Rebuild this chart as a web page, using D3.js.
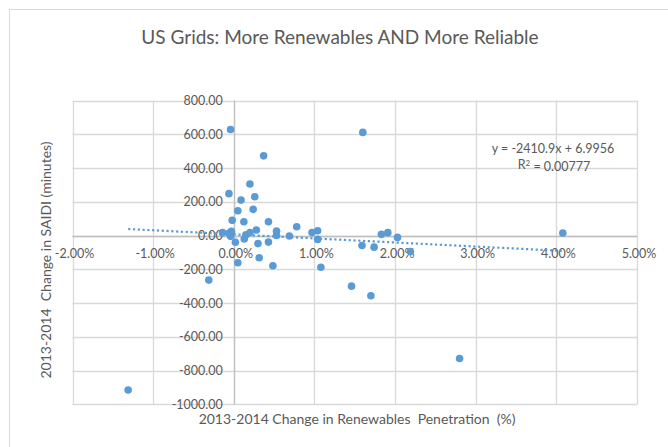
<!DOCTYPE html>
<html><head><meta charset="utf-8">
<script src="https://cdn.jsdelivr.net/npm/d3@7"></script>
<style>
html,body{margin:0;padding:0;background:#fff;}
svg{display:block;}
text{font-family:Lato,"Open Sans",sans-serif;fill:#595959;}
</style></head>
<body>
<svg id="chart" width="668" height="447"></svg>
<script>
// Data: change in renewables penetration (%) vs change in SAIDI (minutes)
const penetration = [-1.31,-0.31,-0.14,-0.06,-0.06,-0.04,-0.03,-0.02,-0.04,0.02,0.05,0.05,0.09,0.125,0.13,0.15,0.20,0.20,0.24,0.26,0.28,0.30,0.315,0.37,0.43,0.43,0.485,0.53,0.53,0.69,0.78,0.97,1.04,1.04,1.08,1.46,1.59,1.60,1.70,1.74,1.83,1.91,2.03,2.19,2.80,4.08];
const saidi = [-915,-264,17,13,248,628,25,90,-5,-40,147,-161,210,82,-21,5,305,18,155,230,33,-48,-132,472,82,-39,-179,26,0,-3,52,18,28,-23,-188,-300,-59,611,-357,-69,7,17,-11,-95,-729,15];
const xTicks = [-2,-1,0,1,2,3,4,5];
const yTicks = [800,600,400,200,0,-200,-400,-600,-800,-1000];
const trendSlope = -2410.9;     // per unit fraction
const trendIntercept = 6.9956;
const title = "US Grids: More Renewables AND More Reliable";
const xTitle = "2013-2014 Change in Renewables  Penetration  (%)";
const yTitle = "2013-2014  Change in SAIDI (minutes)";
const eqText = "y = -2410.9x + 6.9956";

const fmt = d => d3.format(".2f")(d).replace("\u2212","-");

const svg = d3.select("#chart");
// outer chart border
svg.append("rect").attr("x",9.5).attr("y",9.5).attr("width",680).attr("height",460)
  .attr("fill","none").attr("stroke","#d9d9d9").attr("stroke-width",1);

const x = d3.scaleLinear().domain([-2,5]).range([72.5,637]);
const y = d3.scaleLinear().domain([-1000,800]).range([404.3,100.5]);

// gridlines
const g = svg.append("g");
g.selectAll("line.gx").data(xTicks).join("line")
  .attr("x1",d=>Math.round(x(d))+0.5).attr("x2",d=>Math.round(x(d))+0.5)
  .attr("y1",y(800)).attr("y2",y(-1000)).attr("stroke","#d9d9d9").attr("stroke-width",1.3);
g.selectAll("line.gy").data(yTicks).join("line")
  .attr("y1",d=>Math.round(y(d))+0.5).attr("y2",d=>Math.round(y(d))+0.5)
  .attr("x1",x(-2)).attr("x2",x(5)).attr("stroke","#d9d9d9").attr("stroke-width",1.3);
// zero axes
g.append("line").attr("x1",x(-2)).attr("x2",x(5)).attr("y1",Math.round(y(0))+0.5).attr("y2",Math.round(y(0))+0.5)
  .attr("stroke","#bfbfbf").attr("stroke-width",1.3);
g.append("line").attr("y1",y(800)).attr("y2",y(-1000)).attr("x1",Math.round(x(0))+0.5).attr("x2",Math.round(x(0))+0.5)
  .attr("stroke","#bfbfbf").attr("stroke-width",1.3);

// tick labels
svg.append("g").selectAll("text").data(yTicks).join("text")
  .attr("x",x(0)-11).attr("y",d=>y(d)).attr("dy","0.36em").attr("text-anchor","end")
  .attr("font-size",12.5).text(d=>fmt(d));
svg.append("g").selectAll("text").data(xTicks).join("text")
  .attr("x",d=>x(d)+2).attr("y",y(0)+18).attr("dy","0.36em").attr("text-anchor","middle")
  .attr("font-size",12.5).text(d=>fmt(d)+"%");

// points
svg.append("g").selectAll("circle").data(penetration.map((p,i)=>[p,saidi[i]])).join("circle")
  .attr("cx",d=>x(d[0])).attr("cy",d=>y(d[1])).attr("r",3.8).attr("fill","#5b9bd5");

// trendline
const xmin = d3.min(penetration), xmax = d3.max(penetration);
svg.append("line")
  .attr("x1",x(xmin)).attr("y1",y(trendSlope*xmin/100+trendIntercept))
  .attr("x2",x(xmax)).attr("y2",y(trendSlope*xmax/100+trendIntercept))
  .attr("stroke","#5b9bd5").attr("stroke-width",2.2).attr("stroke-dasharray","2.2,2.6");

// equation
svg.append("text").attr("x",553).attr("y",148.5).attr("dy","0.36em").attr("text-anchor","middle")
  .attr("font-size",12.5).text(eqText);
const r2 = svg.append("text").attr("x",554).attr("y",164.5).attr("dy","0.36em").attr("text-anchor","middle")
  .attr("font-size",12.5);
r2.append("tspan").text("R");
r2.append("tspan").attr("dy","-0.4em").attr("font-size",8).text("2");
r2.append("tspan").attr("dy","0.4em").text(" = 0.00777");

// titles
svg.append("text").attr("x",340).attr("y",37).attr("dy","0.36em").attr("text-anchor","middle")
  .attr("font-size",19).text(title);
svg.append("text").attr("x",357).attr("y",419).attr("dy","0.36em").attr("text-anchor","middle")
  .attr("font-size",14).style("white-space","pre").text(xTitle);
svg.append("text").attr("transform","translate(46,260) rotate(-90)").attr("dy","0.36em")
  .attr("text-anchor","middle").attr("font-size",14).style("white-space","pre").text(yTitle);
</script>
</body></html>
